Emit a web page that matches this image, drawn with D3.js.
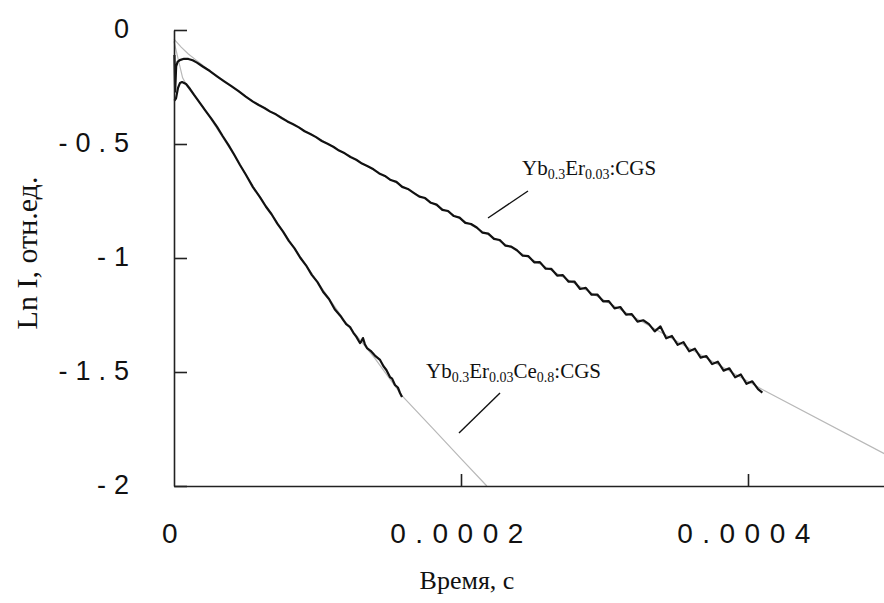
<!DOCTYPE html>
<html><head><meta charset="utf-8">
<script src="https://cdn.jsdelivr.net/npm/d3@7"></script>
<style>html,body{margin:0;padding:0;background:#fff;}svg{display:block;}</style>
</head><body>
<svg id="c" width="884" height="603"></svg>
<script>
// time in seconds, Ln I in relative units
const xTickValues = [0, 0.0002, 0.0004];
const xTickLabels = ["0", "0.0002", "0.0004"];
const yTickValues = [0, -0.5, -1, -1.5, -2];
const yTickLabels = ["0", "-0.5", "-1", "-1.5", "-2"];

// Yb0.3Er0.03:CGS measured (t in µs)
const s1T = [0.3,0.8,1.5,2.5,4,7,10,13,16,20,25,30,35,40,45,50,55,59,63,67,71,75,79,83,87,91,95,99,103,107,111,115,119,123,127,131,135,139,143,147,151,155,159,163,167,171,175,179,183,187,191,195,199,203,207,211,215,219,223,227,231,235,239,243,247,251,255,259,263,267,271,275,279,283,287,291,295,299,303,307,311,315,319,323,327,331,335,339,343,347,351,355,359,363,367,371,375,379,383,387,391,395,399,403,407,410];
const s1Y = [-0.11,-0.27,-0.16,-0.14,-0.132,-0.126,-0.127,-0.133,-0.143,-0.16,-0.18,-0.203,-0.225,-0.246,-0.268,-0.292,-0.314,-0.329,-0.342,-0.358,-0.370,-0.386,-0.401,-0.413,-0.427,-0.444,-0.456,-0.470,-0.487,-0.499,-0.512,-0.529,-0.541,-0.557,-0.569,-0.586,-0.598,-0.611,-0.629,-0.640,-0.658,-0.666,-0.688,-0.697,-0.714,-0.731,-0.737,-0.758,-0.766,-0.789,-0.794,-0.816,-0.823,-0.846,-0.851,-0.866,-0.889,-0.893,-0.916,-0.921,-0.946,-0.950,-0.966,-0.990,-0.992,-1.019,-1.018,-1.047,-1.048,-1.077,-1.075,-1.104,-1.103,-1.136,-1.131,-1.161,-1.160,-1.190,-1.189,-1.221,-1.215,-1.248,-1.246,-1.279,-1.273,-1.290,-1.322,-1.300,-1.352,-1.342,-1.381,-1.369,-1.409,-1.398,-1.437,-1.430,-1.465,-1.455,-1.494,-1.484,-1.523,-1.511,-1.552,-1.541,-1.575,-1.590];
// fitted line for series 1
const f1T = [0, 5, 10, 15, 20, 30, 53, 150, 300, 410, 495];
const f1Y = [-0.04, -0.075, -0.105, -0.13, -0.155, -0.205, -0.305, -0.652, -1.186, -1.577, -1.858];

// Yb0.3Er0.03Ce0.8:CGS measured
const s2T = [0.3,1.4,2.8,4.2,5.6,8.4,11.2,14,18,22,26,30,34,38,42,46,50,55,60,64,68,72,76,80,84,88,92,96,100,104,108,112,116,118,120,122.7,125,127,129.6,130.5,131.7,133,134.5,137,140,143.6,146,148,150.5,152,154,156,157.5,158.9];
const s2Y = [-0.31,-0.30,-0.254,-0.232,-0.228,-0.237,-0.259,-0.285,-0.320,-0.355,-0.389,-0.425,-0.466,-0.505,-0.547,-0.592,-0.634,-0.689,-0.734,-0.774,-0.808,-0.849,-0.884,-0.925,-0.958,-0.999,-1.032,-1.074,-1.106,-1.149,-1.180,-1.225,-1.254,-1.272,-1.290,-1.303,-1.328,-1.345,-1.373,-1.366,-1.351,-1.378,-1.395,-1.407,-1.428,-1.447,-1.475,-1.491,-1.522,-1.529,-1.557,-1.568,-1.592,-1.610];
// fitted line for series 2
const f2T = [0, 3, 6, 10, 20, 40, 55, 80, 100, 120, 140, 159, 180, 200, 218];
const f2Y = [-0.05, -0.13, -0.21, -0.255, -0.335, -0.53, -0.685, -0.92, -1.105, -1.285, -1.44, -1.605, -1.745, -1.88, -2.0];

const svg = d3.select("#c");
const x = d3.scaleLinear().domain([0, 0.0005]).range([174, 891.5]);
const y = d3.scaleLinear().domain([-2, 0]).range([486, 30]);

const pts = (T, Y) => T.map((t, i) => [t * 1e-6, Y[i]]);
const line = d3.line().x(d => x(d[0])).y(d => y(d[1]));

// fitted (gray) lines
svg.append("path").attr("d", line(pts(f1T, f1Y))).attr("fill", "none").attr("stroke", "#b8b8b8").attr("stroke-width", 1.2);
svg.append("path").attr("d", line(pts(f2T, f2Y))).attr("fill", "none").attr("stroke", "#b8b8b8").attr("stroke-width", 1.2);
// measured (black)
svg.append("path").attr("d", line(pts(s1T, s1Y))).attr("fill", "none").attr("stroke", "#111").attr("stroke-width", 2.2).attr("stroke-linejoin", "round");
svg.append("path").attr("d", line(pts(s2T, s2Y))).attr("fill", "none").attr("stroke", "#111").attr("stroke-width", 2.2).attr("stroke-linejoin", "round");

// axes
const yAxis = d3.axisLeft(y).tickValues(yTickValues).tickFormat((d, i) => yTickLabels[i]).tickSizeInner(-13).tickSizeOuter(0).tickPadding(37);
const gy = svg.append("g").attr("transform", "translate(174,0)").call(yAxis);
gy.selectAll("text").attr("font-family", "'Liberation Sans', Arial, sans-serif").attr("font-size", 27).attr("letter-spacing", "8px").attr("fill", "#111").attr("dy", "0.28em");
gy.selectAll("line, path").attr("stroke", "#222").attr("stroke-width", 1.6);

const xAxis = d3.axisBottom(x).tickValues(xTickValues).tickFormat((d, i) => xTickLabels[i]).tickSizeInner(-12).tickSizeOuter(0).tickPadding(37);
const gx = svg.append("g").attr("transform", "translate(0,486)").call(xAxis);
gx.selectAll("text").attr("font-family", "'Liberation Sans', Arial, sans-serif").attr("font-size", 28).attr("letter-spacing", "9.5px").attr("fill", "#111");
gx.selectAll("line, path").attr("stroke", "#222").attr("stroke-width", 1.6);
gx.selectAll(".tick").filter(d => d === 0).select("line").remove();

// axis titles
svg.append("text").attr("transform", "translate(37,253) rotate(-90)").attr("text-anchor", "middle")
  .attr("font-family", "'Liberation Serif', 'Times New Roman', serif").attr("font-size", 30).attr("fill", "#111").text("Ln I, отн.ед.");
svg.append("text").attr("x", 467).attr("y", 589).attr("text-anchor", "middle")
  .attr("font-family", "'Liberation Serif', 'Times New Roman', serif").attr("font-size", 26).attr("fill", "#111").text("Время, с");

// annotations
function label(xp, yp, parts) {
  const t = svg.append("text").attr("x", xp).attr("y", yp)
    .attr("font-family", "'Liberation Serif', 'Times New Roman', serif").attr("font-size", 21).attr("fill", "#111");
  parts.forEach((p, i) => {
    const prev = parts[i - 1];
    let dy = 0;
    if (p[1] && !(prev && prev[1])) dy = 4;
    if (!p[1] && prev && prev[1]) dy = -4;
    const ts = t.append("tspan").text(p[0]).attr("dy", dy);
    if (p[1]) ts.attr("font-size", 14);
  });
}
label(522, 175, [["Yb"], ["0.3", 1], ["Er"], ["0.03", 1], [":CGS"]]);
label(426, 378, [["Yb"], ["0.3", 1], ["Er"], ["0.03", 1], ["Ce"], ["0.8", 1], [":CGS"]]);
const leaders = [[528, 191, 488, 218], [500, 393, 459, 433]];
svg.selectAll("line.lead").data(leaders).enter().append("line").attr("class", "lead")
  .attr("x1", d => d[0]).attr("y1", d => d[1]).attr("x2", d => d[2]).attr("y2", d => d[3])
  .attr("stroke", "#111").attr("stroke-width", 1.4);
</script>
</body></html>
